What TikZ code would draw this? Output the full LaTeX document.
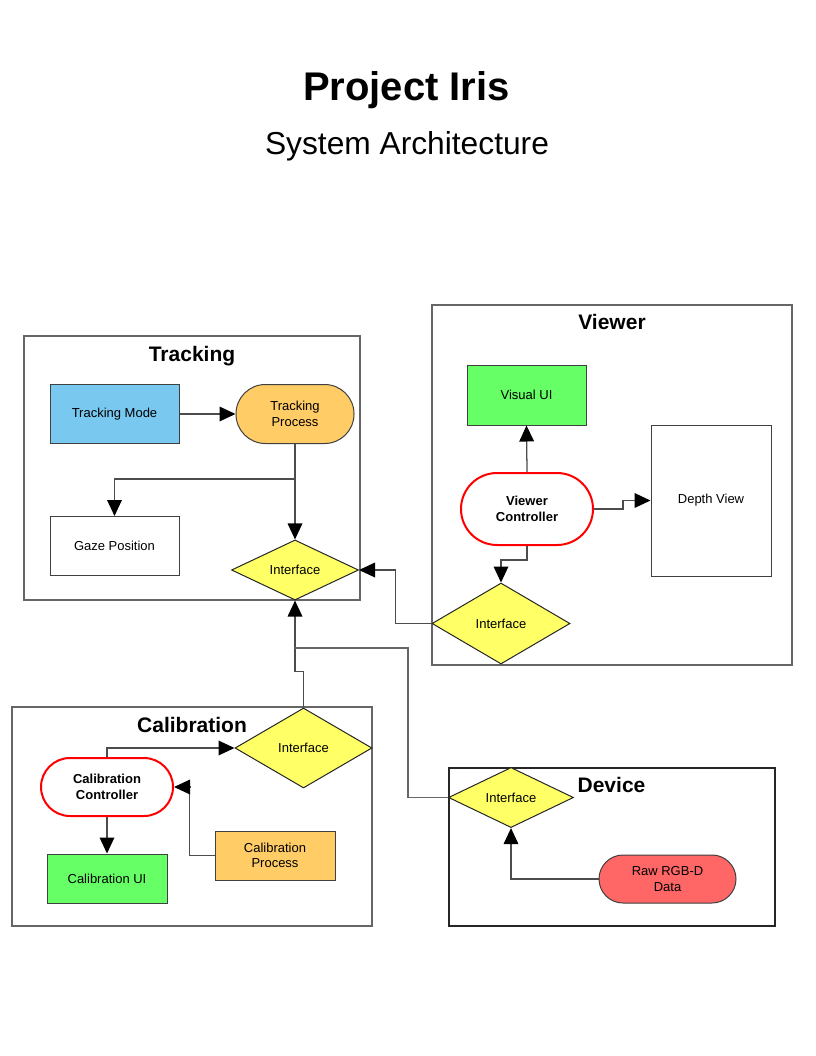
\documentclass[tikz,border=0pt]{standalone}
\usepackage{fontspec}
\setmainfont{Liberation Sans}
\usetikzlibrary{shapes.geometric,arrows.meta}
\definecolor{cblue}{HTML}{78C8F0}
\definecolor{corange}{HTML}{FFCC66}
\definecolor{cgreen}{HTML}{66FF66}
\definecolor{cyellow}{HTML}{FFFF66}
\definecolor{cred}{HTML}{FF6666}
\definecolor{cborder}{HTML}{FF0000}
\begin{document}
\begin{tikzpicture}[x=0.75pt,y=-0.75pt,
  nodefont/.style={font=\fontsize{9.75}{11.5}\selectfont},
  box/.style={draw=black!75, line width=0.75pt, inner sep=0pt, align=center, nodefont},
  pill/.style={box, rounded corners=#1},
  ctrl/.style={draw=cborder, line width=1.5pt, fill=white, inner sep=0pt, align=center,
    font=\fontsize{9.75}{11.5}\selectfont\bfseries, rounded corners=#1},
  diam/.style={diamond, draw=black!85, line width=0.75pt, fill=cyellow, inner sep=0pt, nodefont},
  cont/.style={draw=black!60, line width=0.9pt},
  conttitle/.style={anchor=base, font=\fontsize{15.75}{18}\selectfont\bfseries},
  arr/.style={draw=black!70, line width=0.95pt, -{Triangle[length=12pt,width=11pt,color=black]}},
  link/.style={draw=black!60, line width=0.95pt}]
\useasboundingbox (0,0) rectangle (816,1056);

% titles
\node[anchor=base, font=\fontsize{30}{34}\selectfont\bfseries] (title) at (406.5,100) {Project Iris};
\node[anchor=base, font=\fontsize{23.8}{28}\selectfont] (subtitle) at (407,154) {System Architecture};

% containers
\draw[cont] (24,336) rectangle (360,600);
\draw[cont] (432,305) rectangle (792,665);
\draw[cont] (12,707) rectangle (372,926);
\draw[cont, draw=black!85] (449,768) rectangle (775,926);
\node[conttitle] (ttrack) at (192,361) {Tracking};
\node[conttitle] (tview) at (612,329) {Viewer};
\node[conttitle] (tcal) at (192,732) {Calibration};
\node[conttitle] (tdev) at (611.5,792) {Device};

% Tracking
\node[box, fill=cblue, minimum width=96.75pt, minimum height=44.25pt] (tmode) at (114.5,414) {Tracking Mode};
\node[pill=22pt, fill=corange, minimum width=88.5pt, minimum height=44.25pt] (tproc) at (295,414) {Tracking\\Process};
\node[box, fill=white, minimum width=96.75pt, minimum height=44.25pt] (gaze) at (114.5,546) {Gaze Position};
\node[diam, minimum width=95.25pt, minimum height=43.5pt] (tif) at (295,570) {Interface};

% Viewer
\node[box, fill=cgreen, minimum width=89.25pt, minimum height=45pt] (vui) at (526.5,395) {Visual UI};
\node[box, fill=white, minimum width=90pt, minimum height=113.25pt] (depth) at (711,500.5) {Depth View};
\node[ctrl=27pt, minimum width=99pt, minimum height=54pt] (vctrl) at (527,509) {Viewer\\Controller};
\node[diam, minimum width=103.5pt, minimum height=60.75pt] (vif) at (501,623.5) {Interface};

% Calibration
\node[diam, minimum width=102.75pt, minimum height=60pt] (cif) at (303.5,748) {Interface};
\node[ctrl=21.75pt, minimum width=99pt, minimum height=43.5pt] (cctrl) at (107,787) {Calibration\\Controller};
\node[box, fill=cgreen, minimum width=90pt, minimum height=36.75pt] (cui) at (107,878.5) {Calibration UI};
\node[box, fill=corange, minimum width=90pt, minimum height=36.75pt] (cproc) at (275,855.5) {Calibration\\Process};

% Device
\node[diam, minimum width=93.75pt, minimum height=44.25pt] (dif) at (511,797.5) {Interface};
\node[pill=18pt, fill=cred, minimum width=102.75pt, minimum height=36pt] (raw) at (667.5,879) {Raw RGB-D\\Data};

% connectors
\draw[arr] (tmode.east) -- (tproc.west);
\draw[arr] (tproc.south) -- (tif.north);
\draw[arr] (tproc.south |- 0,479) -| (gaze.north);
\draw[arr] (vctrl.north) -- (vui.south);
\draw[arr] (vctrl.east) -- ++(29,0) |- (depth.west);
\draw[arr] (vctrl.south) -- ++(0,14) -| (vif.north);
\draw[arr] (vif.west) -- ++(-36,0) |- (tif.east);
\draw[arr] (cif.north) -- ++(0,-36) -| (tif.south);
\draw[link] (tif.south |- 0,648) -- (408,648) |- (dif.west);
\draw[arr] (cctrl.north) |- (cif.west);
\draw[arr] (cctrl.south) -- (cui.north);
\draw[arr] (cproc.west) -- ++(-25,0) |- (cctrl.east);
\draw[arr] (raw.west) -| (dif.south);
\end{tikzpicture}
\end{document}
